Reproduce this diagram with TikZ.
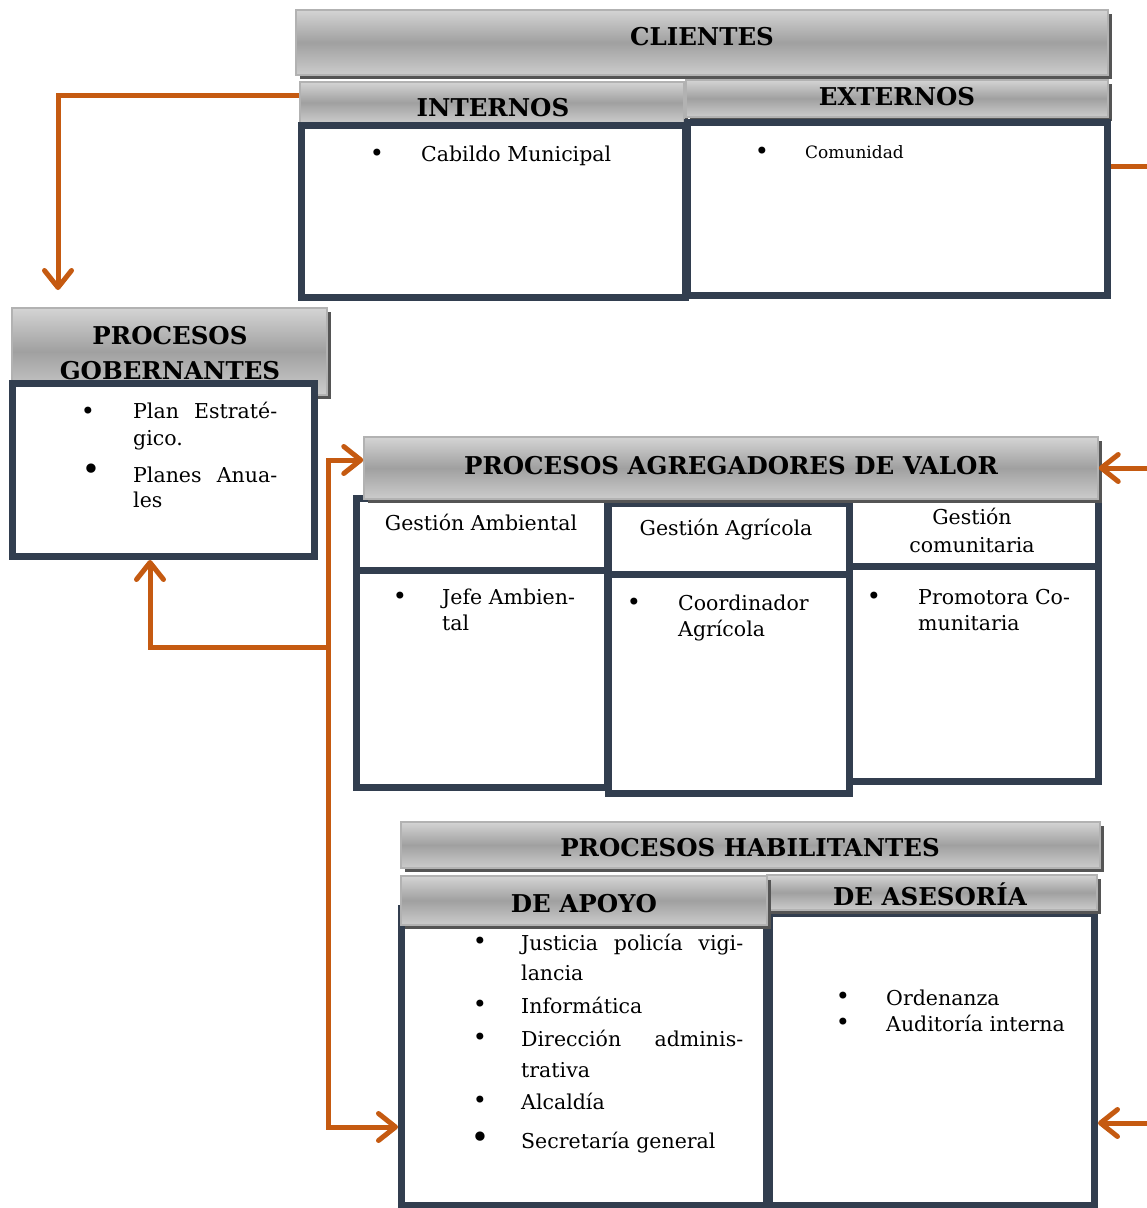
\documentclass[tikz,border=0pt]{standalone}
\usepackage{fontspec}
\setmainfont{DejaVu Serif}
\usetikzlibrary{arrows.meta,fit}
\definecolor{slate}{RGB}{50,62,79}
\definecolor{orng}{RGB}{197,90,17}
\definecolor{hdrtop}{RGB}{212,212,212}
\definecolor{hdrmid}{RGB}{160,160,160}
\definecolor{hdrbot}{RGB}{204,204,204}
\definecolor{hdredge}{RGB}{178,178,178}
\definecolor{hdrshadow}{RGB}{85,85,85}

\begin{document}
\begin{tikzpicture}[x=1pt,y=-1pt,
  hdr/.style={rectangle, inner sep=0, draw=hdredge, line width=1.5pt,
    top color=hdrtop, bottom color=hdrbot, middle color=hdrmid,
    preaction={fill=hdrshadow, transform canvas={xshift=4pt,yshift=-4pt}}},
  bodybox/.style={rectangle, inner sep=0, draw=slate, line width=7pt, fill=white},
  title/.style={inner sep=0, font=\bfseries\fontsize{24.5}{28}\selectfont},
  txt/.style={inner sep=0, anchor=base west, font=\fontsize{20.5}{24}\selectfont},
  ctxt/.style={inner sep=0, anchor=base, font=\fontsize{20.5}{24}\selectfont},
  bul/.style={inner sep=0, font=\fontsize{24}{26}\selectfont},
  bigbul/.style={inner sep=0, font=\fontsize{32}{34}\selectfont},
  conn/.style={draw=orng, line width=5pt},
  tip/.style={-{Straight Barb[length=17pt,width=27pt,round]}}
]
\useasboundingbox (0,0) rectangle (1147,1208);

% ---------- CLIENTES ----------
\node[hdr, fit={(296,10) (1108,75)}] (cliHdr) {};
\node[hdr, fit={(300,82) (684,123)}] (intHdr) {};
\node[hdr, fit={(686,80) (1108,117)}] (extHdr) {};
\node[bodybox, fit={(301.5,125.5) (685.5,297.5)}] (intBody) {};
\node[bodybox, fit={(687.5,122.5) (1107.5,295.5)}] (extBody) {};
\node[title] (cliT) at (702,37) {CLIENTES};
\node[title] (intT) at (493,108) {INTERNOS};
\node[title] (extT) at (897,97) {EXTERNOS};
\node[bul] (intB1) at (377,155) {•};
\node[txt] (intX1) at (421,161) {Cabildo Municipal};
\node[bul] (extB1) at (762,153) {•};
\node[txt, font=\fontsize{17}{20}\selectfont] (extX1) at (805,158) {Comunidad};

% ---------- PROCESOS GOBERNANTES ----------
\node[hdr, fit={(12,308) (327,395)}] (gobHdr) {};
\node[title] (gobT1) at (170,336) {PROCESOS};
\node[title] (gobT2) at (170,371) {GOBERNANTES};
\node[bodybox, fit={(12.5,383.5) (314.5,556.5)}] (gobBody) {};
\node[bul] (gobB1) at (88,413) {•};
\node[txt] (gobX1) at (133,418) {\makebox[144pt][s]{Plan\hfill Estraté-}};
\node[txt] (gobX2) at (133,445) {gico.};
\node[bigbul] (gobB2) at (91,472) {•};
\node[txt] (gobX3) at (133,482) {\makebox[144pt][s]{Planes\hfill Anua-}};
\node[txt] (gobX4) at (133,507) {les};

% ---------- PROCESOS AGREGADORES DE VALOR ----------
\node[bodybox, fit={(356.5,498.5) (607.5,571.5)}] (c1Hdr) {};
\node[bodybox, fit={(356.5,570.5) (607.5,787.5)}] (c1Body) {};
\node[bodybox, fit={(849.5,498.5) (1098.5,571.5)}] (c3Hdr) {};
\node[bodybox, fit={(849.5,566.5) (1098.5,781.5)}] (c3Body) {};
\node[bodybox, fit={(608.5,503.5) (849.5,576.5)}] (c2Hdr) {};
\node[bodybox, fit={(608.5,574.5) (849.5,793.5)}] (c2Body) {};
\node[hdr, fit={(364,437) (1098,499)}] (agrHdr) {};
\node[title] (agrT) at (731,466) {PROCESOS AGREGADORES DE VALOR};
\node[ctxt] (c1T) at (481,530) {Gestión Ambiental};
\node[ctxt] (c2T) at (726,535) {Gestión Agrícola};
\node[ctxt] (c3T1) at (972,524) {Gestión};
\node[ctxt] (c3T2) at (972,552) {comunitaria};
\node[bul] (c1B) at (400,598) {•};
\node[txt] (c1X1) at (442,604) {Jefe Ambien-};
\node[txt] (c1X2) at (442,630) {tal};
\node[bul] (c2B) at (634,604) {•};
\node[txt] (c2X1) at (678,610) {Coordinador};
\node[txt] (c2X2) at (678,636) {Agrícola};
\node[bul] (c3B) at (874,598) {•};
\node[txt] (c3X1) at (918,604) {Promotora Co-};
\node[txt] (c3X2) at (918,630) {munitaria};

% ---------- PROCESOS HABILITANTES ----------
\node[hdr, fit={(401,822) (1100,868)}] (habHdr) {};
\node[bodybox, fit={(769.5,913.5) (1094.5,1205.5)}] (aseBody) {};
\node[bodybox, fit={(401.5,908.5) (766.5,1205.5)}] (apoBody) {};
\node[hdr, fit={(767,875) (1097,910)}] (aseHdr) {};
\node[hdr, fit={(401,876) (767,925)}] (apoHdr) {};
\node[title] (habT) at (750,848) {PROCESOS HABILITANTES};
\node[title] (apoT) at (584,904) {DE APOYO};
\node[title] (aseT) at (930,894) {DE ASESORÍA};
\node[bul] (apB1) at (480,943) {•};
\node[txt] (apX1) at (521,950) {\makebox[222pt][s]{Justicia policía vigi-}};
\node[txt] (apX2) at (521,980) {lancia};
\node[bul] (apB2) at (480,1006) {•};
\node[txt] (apX3) at (521,1013) {Informática};
\node[bul] (apB3) at (480,1039) {•};
\node[txt] (apX4) at (521,1046) {\makebox[222pt][s]{Dirección\hfill adminis-}};
\node[txt] (apX5) at (521,1077) {trativa};
\node[bul] (apB4) at (480,1102) {•};
\node[txt] (apX6) at (521,1109) {Alcaldía};
\node[bigbul] (apB5) at (480,1140) {•};
\node[txt] (apX7) at (521,1148) {Secretaría general};
\node[bul] (asB1) at (843,998) {•};
\node[txt] (asX1) at (886,1005) {Ordenanza};
\node[bul] (asB2) at (843,1024) {•};
\node[txt] (asX2) at (886,1031) {Auditoría interna};

% ---------- connectors ----------
\coordinate (gobIn) at (58,290);
\coordinate (rOut) at (1147,166);
\coordinate (trunkTop) at (328,460);
\coordinate (trunkMid) at (328,647);
\coordinate (trunkBot) at (328,1127);
\coordinate (rIn1) at (1147,468);
\coordinate (rIn2) at (1147,1123);

\draw[conn, tip] (intHdr.west |- 0,95) -| (gobIn);
\draw[conn] (extBody.east |- rOut) -- (rOut);
\draw[conn, tip] (trunkMid) -| (gobBody.south -| 150,0);
\draw[conn, tip] (trunkMid) -- (trunkTop) -- (agrHdr.west |- trunkTop);
\draw[conn, tip] (trunkMid) -- (trunkBot) -- (apoBody.west |- trunkBot);
\draw[conn, tip] (rIn1) -- (agrHdr.east |- rIn1);
\draw[conn, tip] (rIn2) -- (aseBody.east |- rIn2);
\end{tikzpicture}
\end{document}
